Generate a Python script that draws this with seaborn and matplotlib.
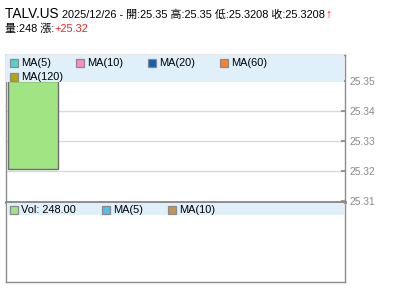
import matplotlib
matplotlib.use("Agg")
import matplotlib.pyplot as plt
import seaborn as sns
import pandas as pd
from matplotlib.patches import Rectangle

sns.set_theme(style="white")
plt.rcParams['font.family'] = ['Liberation Sans', 'Noto Sans CJK TC', 'DejaVu Sans']

# ---- data ----
symbol = "TALV.US"
date = "2025/12/26"
open_p = 25.35
high_p = 25.35
low_p = 25.3208
close_p = 25.3208
volume = 248
change = 25.32
price_ticks = [25.31, 25.32, 25.33, 25.34, 25.35]
ma_labels = ["MA(5)", "MA(10)", "MA(20)", "MA(60)", "MA(120)"]
ma_colors = ["#4fd3cf", "#f98dbd", "#0b63b6", "#fb8125", "#b5a60b"]
vol_labels = [f"Vol: {volume:.2f}", "MA(5)", "MA(10)"]
vol_colors = ["#a3e08a", "#4fbfee", "#c69450"]

df = pd.DataFrame({"x": [0], "open": [open_p], "close": [close_p],
                   "high": [high_p], "low": [low_p], "vol": [volume]})

W, H = 400, 301
fig = plt.figure(figsize=(W / 100, H / 100), dpi=100)

def fx(px):
    return px / W

def fy(py):
    return 1 - py / H

ax = fig.add_axes([fx(6), fy(202), fx(339), (202 - 55) / H])
axv = fig.add_axes([fx(6), fy(282), fx(339), (282 - 202) / H])

border = "#8c8c8c"
for a in (ax, axv):
    for s in a.spines.values():
        s.set_color(border)
        s.set_linewidth(1.0)
        s.set_visible(True)
    a.set_xlim(-0.432, 4.992)
    a.set_xticks([])
ax.spines['bottom'].set_linewidth(1.8)
axv.spines['top'].set_linewidth(1.8)

# price axis
ax.set_ylim(25.3097, 25.3587)
ax.set_yticks(price_ticks)
ax.set_yticklabels([f"{t:.2f}" for t in price_ticks])
ax.yaxis.tick_right()
ax.tick_params(axis='y', direction='in', length=3, color=border, labelsize=7.4,
               labelcolor="#8a8a8a", pad=3, right=True, left=False)
for t in price_ticks[1:4]:
    ax.axhline(t, color="#d9d9d9", lw=1.0, zorder=0)

# candle body (down day, green)
ax.bar(df["x"], df["open"] - df["close"], bottom=df["close"], width=0.8,
       color="#a0e484", edgecolor="#6e6e6e", linewidth=1.0, zorder=2)
ax.vlines(df["x"], df["low"], df["high"], color="#6e6e6e", lw=1.0, zorder=1)

axv.set_yticks([])
axv.set_ylim(0, 1)

band = "#dff0fa"
ax.add_patch(Rectangle((0, 1 - 27 / 147), 0.997, 27 / 147, transform=ax.transAxes,
                       facecolor=band, edgecolor='none', zorder=3, clip_on=False))
axv.add_patch(Rectangle((0.003, 1 - 13 / 80), 0.994, 12 / 80, transform=axv.transAxes,
                        facecolor=band, edgecolor='none', zorder=3))

def legend_item(xpx, ypx, color, label):
    fig.patches.append(Rectangle((fx(xpx), fy(ypx + 4)), fx(8), 8 / H,
                                 transform=fig.transFigure, facecolor=color,
                                 edgecolor="#8a8a8a", linewidth=0.9, zorder=5))
    fig.text(fx(xpx + 11), fy(ypx), label, fontsize=7.9, color="black",
             va='center', ha='left', zorder=6)

pos_main = [(10, 63), (76, 63), (148, 63), (220, 63), (10, 77)]
for (x, y), c, l in zip(pos_main, ma_colors, ma_labels):
    legend_item(x, y, c, l)
pos_vol = [(10, 210), (102, 210), (168, 210)]
for (x, y), c, l in zip(pos_vol, vol_colors, vol_labels):
    legend_item(x, y, c, l)

# header text, chained
fig.canvas.draw()
renderer = fig.canvas.get_renderer()

def chain(segments, x0, ypx):
    x = fx(x0)
    for txt, size, color in segments:
        t = fig.text(x, fy(ypx), txt, fontsize=size, color=color, va='baseline', ha='left')
        bb = t.get_window_extent(renderer=renderer)
        x = bb.x1 / (W)
    return x

chain([(symbol + " ", 9.8, "black"),
       (f"{date} - 開:{open_p:.2f} 高:{high_p:.2f} 低:{low_p} 收:{close_p}", 7.9, "black"),
       ("↑", 8.5, "#ee1111")], 5, 17.5)
chain([(f"量:{volume} 漲:", 7.9, "black"), (f"+{change:.2f}", 7.9, "#ee2222")], 5, 31.5)

fig.savefig("out.png", dpi=100)
